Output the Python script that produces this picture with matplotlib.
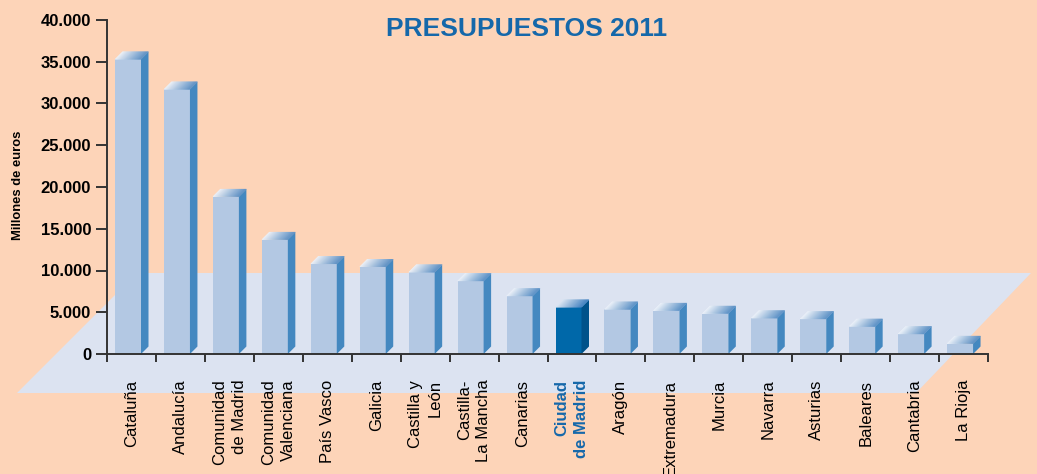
import matplotlib
matplotlib.use("Agg")
import matplotlib.pyplot as plt
import numpy as np
from matplotlib.patches import Polygon
from matplotlib.colors import to_rgb

plt.rcParams['font.family'] = ['Liberation Sans', 'DejaVu Sans']

# ---- data ----
categories = ["Cataluña", "Andalucía", "Comunidad\nde Madrid", "Comunidad\nValenciana",
              "País Vasco", "Galicia", "Castilla y\nLeón", "Castilla-\nLa Mancha",
              "Canarias", "Ciudad\nde Madrid", "Aragón", "Extremadura", "Murcia",
              "Navarra", "Asturias", "Baleares", "Cantabria", "La Rioja"]
values = [35300, 31700, 18850, 13700, 10800, 10450, 9800, 8750, 6950, 5600,
          5350, 5200, 4850, 4300, 4200, 3300, 2400, 1250]
highlight = "Ciudad\nde Madrid"
yticks = [0, 5000, 10000, 15000, 20000, 25000, 30000, 35000, 40000]
ytick_labels = ["0", "5.000", "10.000", "15.000", "20.000", "25.000", "30.000", "35.000", "40.000"]
title = "PRESUPUESTOS 2011"
ylabel = "Millones de euros"

# ---- style ----
BG = "#FDD4B8"
FLOOR = "#DCE3F1"
FRONT = "#B3C8E3"
SIDE = "#4488C0"
TOP_L = "#EEF3FA"
TOP_R = "#5A90C6"
HFRONT = "#0068A9"
HSIDE = "#00528A"
HTOP_L = "#DDE8F4"
HTOP_R = "#3F80C0"
AXC = "#333333"
TITLEC = "#1568AA"

W, H = 1037, 474
fig = plt.figure(figsize=(W / 100, H / 100), dpi=100, facecolor=BG)
x_left, x_right, y_top, y_base = 107, 988, 20, 354
ax = fig.add_axes([x_left / W, (H - y_base) / H, (x_right - x_left) / W, (y_base - y_top) / H])
ax.set_facecolor('none')
n = len(categories)
ax.set_xlim(0, n)
ax.set_ylim(0, 40000)

pxx = n / (x_right - x_left)
pxy = 40000 / (y_base - y_top)

def px_to_data(px, py):
    return ((px - x_left) * pxx, (y_base - py) * pxy)

# floor plane
floor_px = [(17, 393), (916, 393), (1031, 273), (137, 273)]
floor = Polygon([px_to_data(*p) for p in floor_px], closed=True, facecolor=FLOOR,
                edgecolor='none', zorder=1, clip_on=False)
ax.add_patch(floor)

off = 8 * pxx
bw = 26 * pxx
dx = 7.5 * pxx
dy = 7.5 * pxy

for i, (cat, v) in enumerate(zip(categories, values)):
    hl = cat == highlight
    fc = HFRONT if hl else FRONT
    sc = HSIDE if hl else SIDE
    tl = np.array(to_rgb(HTOP_L if hl else TOP_L))
    tr = np.array(to_rgb(HTOP_R if hl else TOP_R))
    x0 = i + off
    ax.bar(x0, v, width=bw, align='edge', color=fc, linewidth=0, zorder=2)
    side = Polygon([(x0 + bw, 0), (x0 + bw + dx, dy), (x0 + bw + dx, v + dy), (x0 + bw, v)],
                   closed=True, facecolor=sc, edgecolor='none', zorder=2)
    ax.add_patch(side)
    ns = 24
    for k in range(ns):
        t0, t1 = k / ns, (k + 1) / ns
        c = tl + (tr - tl) * ((k + 0.5) / ns)
        poly = Polygon([(x0 + t0 * bw, v), (x0 + t1 * bw, v),
                        (x0 + t1 * bw + dx, v + dy), (x0 + t0 * bw + dx, v + dy)],
                       closed=True, facecolor=c, edgecolor=c, linewidth=0.3, zorder=2)
        ax.add_patch(poly)

# spines
for s in ['top', 'right']:
    ax.spines[s].set_visible(False)
for s in ['left', 'bottom']:
    ax.spines[s].set_color(AXC)
    ax.spines[s].set_linewidth(1.4)
    ax.spines[s].set_zorder(3)

# x ticks
ax.set_xticks(np.arange(n + 1))
ax.tick_params(axis='x', which='major', length=5.5, width=1.4, color=AXC, labelbottom=False)
ax.set_xticks(np.arange(n) + 0.5, minor=True)
ax.set_xticklabels(categories, minor=True, rotation=90, va='top', ha='center',
                   multialignment='right', fontsize=12, linespacing=1.4)
ax.tick_params(axis='x', which='minor', length=0, pad=18.5)
for lbl in ax.get_xticklabels(minor=True):
    if lbl.get_text() == highlight:
        lbl.set_color(TITLEC)
        lbl.set_fontweight('bold')

# y ticks
ax.set_yticks(yticks)
ax.set_yticklabels(ytick_labels, fontsize=12, fontweight='bold')
ax.tick_params(axis='y', length=8, width=1.4, color=AXC, pad=3.5)

fig.text(527 / W, 1 - 29 / H, title, ha='center', va='center', fontsize=19,
         fontweight='bold', color=TITLEC)
fig.text(18 / W, 1 - 185 / H, ylabel, rotation=90, ha='center', va='center',
         fontsize=9.4, fontweight='bold', color='black')

fig.savefig('out.png', dpi=100, facecolor=BG)
